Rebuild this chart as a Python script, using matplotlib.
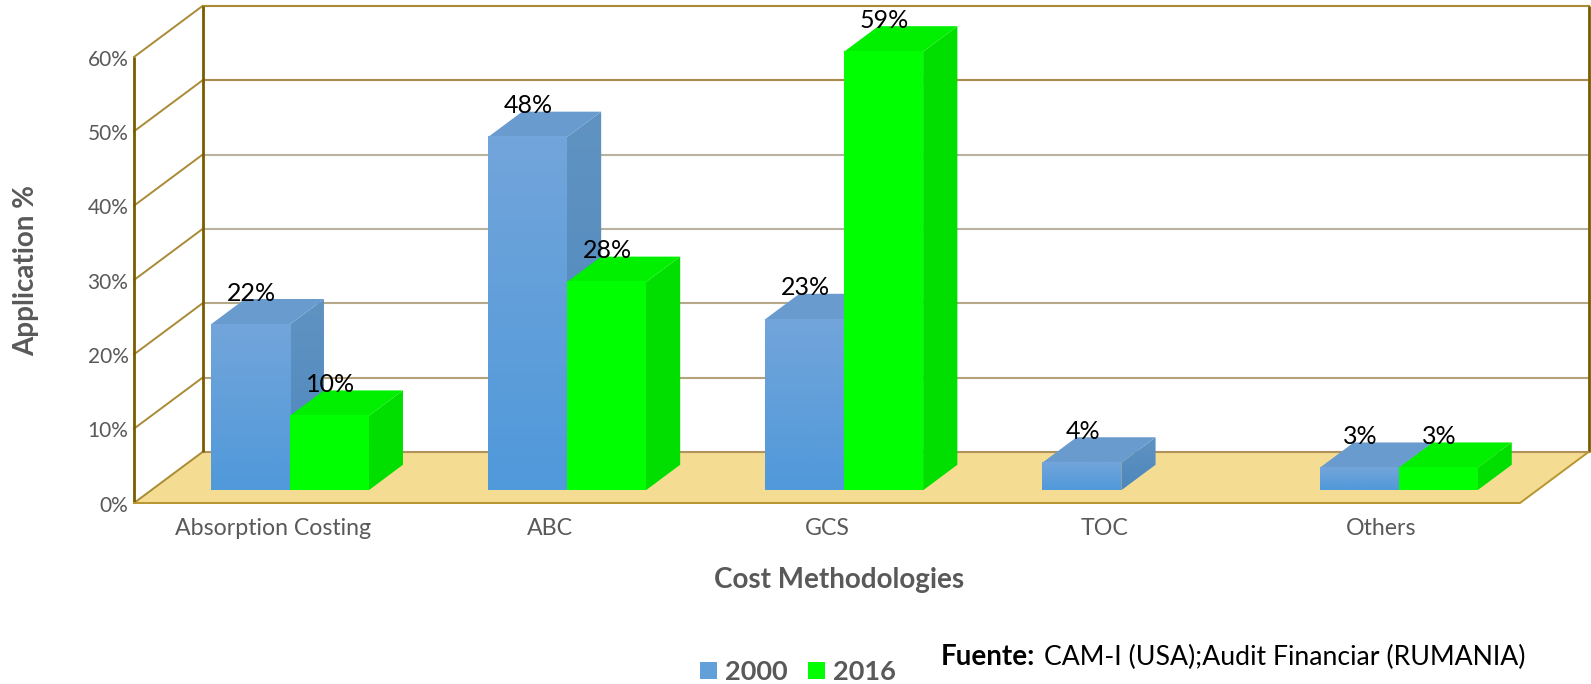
import numpy as np
import matplotlib
matplotlib.use("Agg")
import matplotlib.pyplot as plt
from matplotlib.patches import Polygon, Patch
from matplotlib.colors import LinearSegmentedColormap

categories = ["Absorption Costing", "ABC", "GCS", "TOC", "Others"]
values_2000 = [22.3, 47.5, 23, 3.7, 3]
values_2016 = [10, 28, 59, None, 3]
y_ticks = [0, 10, 20, 30, 40, 50, 60]
grid_colors = ["#b0925a", "#b3a27a", "#b5a888", "#b9b2a0", "#b9b2a0", "#a88b4a", "#a98b35"]

W, H = 1591, 684
plt.rcParams["font.family"] = ["Lato", "DejaVu Sans"]

fig = plt.figure(figsize=(W / 100, H / 100), dpi=100)
# axes is the front plane of the 3d box
left, right, bottom, top = 134, 1520, 503, 57
ax = fig.add_axes([left / W, 1 - bottom / H, (right - left) / W, (bottom - top) / H])
ax.set_xlim(0, 5)
ax.set_ylim(0, 60)
ax.axis("off")

# depth of the box in data units
DX = 68.5 / 277.2
DY = 51 / 7.433
BAR_W = 79 / 277.2


def poly(pts, color, z=2):
    ax.add_patch(Polygon(pts, closed=True, facecolor=color, edgecolor="none", zorder=z, clip_on=False))


def grad(x0, x1, y0, y1, c_top, c_bot, z, clip_pts=None):
    cmap = LinearSegmentedColormap.from_list("g", [c_top, c_bot])
    im = ax.imshow(np.linspace(0, 1, 64).reshape(-1, 1), extent=(x0, x1, y0, y1), cmap=cmap,
                   aspect="auto", origin="upper", zorder=z, clip_on=False, interpolation="bilinear")
    if clip_pts is not None:
        clip = Polygon(clip_pts, closed=True, transform=ax.transData)
        im.set_clip_on(True)
        im.set_clip_path(clip)
        # the 59% bar pokes out above the axes box
        im.set_clip_box(fig.bbox)


def bar3d(x0, h, front, front_bot, topc, side_top, side_bot, z):
    d0x, d0y = DX / 4, DY / 4
    d1x, d1y = DX * 3 / 4, DY * 3 / 4
    x1 = x0 + BAR_W
    side = [(x1 + d0x, d0y), (x1 + d1x, d1y), (x1 + d1x, d1y + h), (x1 + d0x, d0y + h)]
    grad(x1 + d0x, x1 + d1x, d0y, d1y + h, side_top, side_bot, z, clip_pts=side)
    poly([(x0 + d0x, d0y + h), (x1 + d0x, d0y + h), (x1 + d1x, d1y + h), (x0 + d1x, d1y + h)],
         topc, z=z)
    grad(x0 + d0x, x1 + d0x, d0y, d0y + h, front, front_bot, z + 0.1)
    return (x0 + BAR_W / 2 + d0x, d1y + h)


# floor
poly([(0, 0), (5, 0), (5 + DX, DY), (DX, DY)], "#f4dc93", z=1)
ax.plot([0, 5, 5 + DX], [0, 0, DY], color="#b8952f", lw=1.4, zorder=1.5, clip_on=False)

# back wall grid and side wall lines
for tick, col in zip(y_ticks, grid_colors):
    ax.plot([DX, 5 + DX], [tick + DY, tick + DY], color=col, lw=1.5, zorder=1.2, clip_on=False)
    ax.plot([0, DX], [tick, tick + DY], color="#a98b35", lw=1.4, zorder=1.3, clip_on=False)

# wall uprights
for xv, base in [(0, 0), (DX, DY), (5 + DX, DY)]:
    ax.plot([xv, xv], [base, base + 60], color="#7a5c00", lw=2.0, zorder=1.4, clip_on=False,
            solid_capstyle="butt")

labels = []
for i in range(len(categories)):
    x_mid = i + 0.5
    if values_2000[i] is not None:
        pos = bar3d(x_mid - BAR_W, values_2000[i], "#72a5da", "#5099da", "#6a9bce", "#6093c2", "#4d87bd", 3 + i * 0.5)
        labels.append((pos, values_2000[i]))
    if values_2016[i] is not None:
        pos = bar3d(x_mid, values_2016[i], "#00ff00", "#00ff00", "#00f000", "#00df00", "#00df00", 3.2 + i * 0.5)
        labels.append((pos, values_2016[i]))

for (xp, yp), v in labels:
    ax.annotate(f"{v:.0f}%", (xp, yp), xytext=(0.7, -4), textcoords="offset points",
                ha="center", va="bottom", fontsize=18, color="black", zorder=10, annotation_clip=False)

for tick in y_ticks:
    ax.annotate(f"{tick}%", (0, tick), xytext=(-4, -2), textcoords="offset points", ha="right",
                va="center", fontsize=15, color="#595959", annotation_clip=False)

for i, cat in enumerate(categories):
    ax.annotate(cat, (i + 0.5, 0), xytext=(0, -18.5), textcoords="offset points", ha="center",
                va="center", fontsize=16.7, color="#595959", annotation_clip=False)

fig.text(26 / W, 1 - 271 / H, "Application %", rotation=90, ha="center", va="center",
         fontsize=20, fontweight="bold", color="#595959")
fig.text(839 / W, 1 - 580 / H, "Cost Methodologies", ha="center", va="center",
         fontsize=20, fontweight="bold", color="#595959")

fig.text(941 / W, 1 - 657 / H, "Fuente:", ha="left", va="center", fontsize=20, fontweight="bold", color="black")
fig.text(1044 / W, 1 - 657 / H, "CAM-I (USA);Audit Financiar (RUMANIA)", ha="left", va="center",
         fontsize=19.2, color="black")

handles = [Patch(facecolor="#62a0da", label="2000"), Patch(facecolor="#00ff00", label="2016")]
fig.legend(handles=handles, loc="center", bbox_to_anchor=(798 / W, 1 - 672 / H), ncol=2, frameon=False,
           prop={"size": 19.5, "weight": "bold"}, labelcolor="#595959", handlelength=0.64, handleheight=0.64,
           handletextpad=0.3, columnspacing=0.74, borderpad=0, borderaxespad=0)

ax.set_xlim(0, 5)
ax.set_ylim(0, 60)
fig.savefig("out.png", dpi=100)
